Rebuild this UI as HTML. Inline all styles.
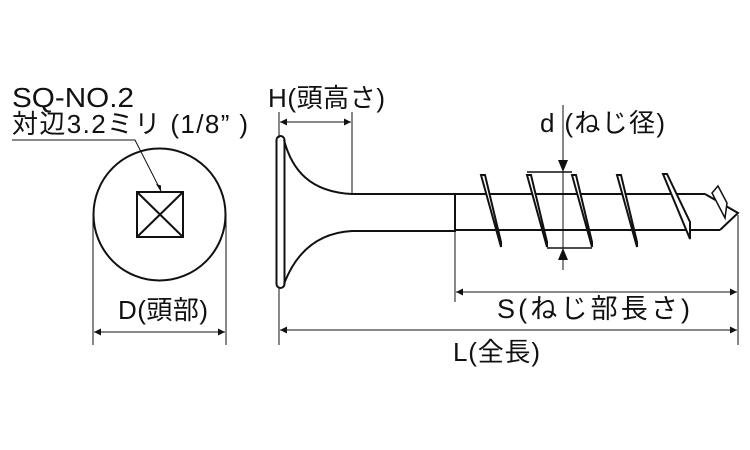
<!DOCTYPE html>
<html><head><meta charset="utf-8"><style>
html,body{margin:0;padding:0;background:#fff;}
svg{display:block;}
text{font-family:"Liberation Sans","Noto Sans CJK JP",sans-serif;fill:#111;}
</style></head><body>
<svg width="750" height="450" viewBox="0 0 750 450" xmlns="http://www.w3.org/2000/svg">
<defs>
<marker id="a" viewBox="0 0 10 10" refX="10" refY="5" markerWidth="14" markerHeight="7" markerUnits="userSpaceOnUse" orient="auto-start-reverse"><path d="M0,0L10,5L0,10z" fill="#111"/></marker>
</defs>
<g stroke="#111" fill="none">
<circle cx="159.5" cy="214.5" r="66" stroke-width="2"/>
<rect x="137" y="192" width="46" height="45" stroke-width="2"/>
<line x1="137" y1="192" x2="183" y2="237" stroke-width="2"/>
<line x1="183" y1="192" x2="137" y2="237" stroke-width="2"/>
<polyline points="12,140 135,140 161,191" stroke-width="1"/>
<path d="M161,192 l-5,-8 l5,1.5 z" fill="#111" stroke="none"/>
<line x1="93" y1="215" x2="93" y2="345" stroke-width="1"/>
<line x1="226" y1="215" x2="226" y2="345" stroke-width="1"/>
<line x1="94" y1="332" x2="225" y2="332" stroke-width="1" marker-start="url(#a)" marker-end="url(#a)"/>

<rect x="276.5" y="136" width="8" height="152" rx="4" stroke-width="2"/>
<path d="M284,140 C292,170 310,192 352,194 L455,194 L455,231 L352,231 C315,233 295,255 284,284" stroke-width="2"/>
<line x1="455" y1="194" x2="705" y2="194" stroke-width="2"/>
<line x1="455" y1="230" x2="720" y2="230" stroke-width="2"/>
<polyline points="705,194 738,213 720,230" stroke-width="2"/>
<path d="M712,193 L718,186 L727,203 L725,218 Z" stroke-width="1.5" fill="#fff"/>
<g stroke-width="2" fill="#fff">
<path d="M481,175 L485,175 L501,242 L501,247 Z"/>
<path d="M527,175 L531,175 L547,242 L547,247 Z"/>
<path d="M572,175 L576,175 L592,242 L592,247 Z"/>
<path d="M617,175 L621,175 L637,242 L637,247 Z"/>
<path d="M663,174 L667,174 L690,222 L690,239 Z"/>
</g>
<line x1="527" y1="172" x2="572" y2="172" stroke-width="1.5"/>
<line x1="547" y1="248" x2="592" y2="248" stroke-width="1.5"/>
<line x1="563" y1="105" x2="563" y2="270" stroke-width="1"/>
<path d="M558,160 L568,160 L563,172 Z" fill="#111" stroke="none"/>
<path d="M558,260 L568,260 L563,248 Z" fill="#111" stroke="none"/>

<line x1="279" y1="112" x2="279" y2="138" stroke-width="1"/>
<line x1="352" y1="112" x2="352" y2="194" stroke-width="1"/>
<line x1="280" y1="122" x2="351" y2="122" stroke-width="1" marker-start="url(#a)" marker-end="url(#a)"/>
<line x1="279" y1="288" x2="279" y2="345" stroke-width="1"/>
<line x1="455" y1="232" x2="455" y2="302" stroke-width="1"/>
<line x1="738" y1="215" x2="738" y2="345" stroke-width="1"/>
<line x1="456" y1="292" x2="737" y2="292" stroke-width="1" marker-start="url(#a)" marker-end="url(#a)"/>
<line x1="280" y1="330" x2="737" y2="330" stroke-width="1" marker-start="url(#a)" marker-end="url(#a)"/>
</g>
<g font-size="26">
<text x="12" y="107" font-size="28" textLength="122" lengthAdjust="spacingAndGlyphs">SQ-NO.2</text>
<text x="12" y="133" textLength="236" lengthAdjust="spacing">対辺3.2ミリ (1/8” )</text>
<text x="118" y="319" textLength="90" lengthAdjust="spacing">D(頭部)</text>
<text x="268" y="107" textLength="117" lengthAdjust="spacing">H(頭高さ)</text>
<text x="540" y="132" textLength="125" lengthAdjust="spacing">d (ねじ径)</text>
<text x="497" y="318" font-size="27" textLength="193" lengthAdjust="spacing">S(ねじ部長さ)</text>
<text x="453" y="361" textLength="87" lengthAdjust="spacing">L(全長)</text>
</g>
</svg>
</body></html>
